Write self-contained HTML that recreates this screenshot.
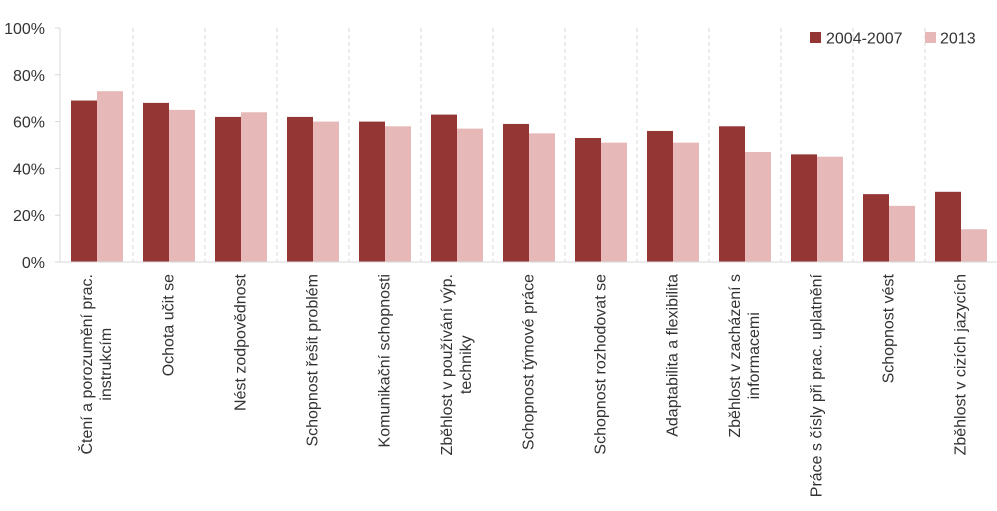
<!DOCTYPE html>
<html><head><meta charset="utf-8"><style>
body{margin:0;background:#fff;}
svg{display:block;font-family:"Liberation Sans",sans-serif;}
</style></head><body>
<svg id="chart" width="997" height="511" viewBox="0 0 997 511">
<g id="grid"></g>
<g id="bars"></g>
<g id="axes"></g>
<g id="labels"></g>
<g>
<rect x="810" y="32" width="11" height="11" fill="#943634"/>
<text x="826" y="43.5" font-size="16" fill="#333">2004-2007</text>
<rect x="925" y="32" width="11" height="11" fill="#E6B9B8"/>
<text x="940" y="43.5" font-size="16" fill="#333">2013</text>
</g>
</svg>
<script>
const categories=[["Čtení a porozumění prac.","instrukcím"],["Ochota učit se"],["Nést zodpovědnost"],["Schopnost řešit problém"],["Komunikační schopnosti"],["Zběhlost v používání výp.","techniky"],["Schopnost týmové práce"],["Schopnost rozhodovat se"],["Adaptabilita a flexibilita"],["Zběhlost v zacházení s","informacemi"],["Práce s čísly při prac. uplatnění"],["Schopnost vést"],["Zběhlost v cizích jazycích"]];
const series2004=[69,68,62,62,60,63,59,53,56,58,46,29,30];
const series2013=[73,65,64,60,58,57,55,51,51,47,45,24,14];
const yTicks=[0,20,40,60,80,100];
const NS="http://www.w3.org/2000/svg";
const x0=61,cw=72,yBase=262,yTop=28;
const y=v=>yBase-(v/100)*(yBase-yTop);
const xc=i=>x0+i*cw;
function mk(tag,attrs,parent){const e=document.createElementNS(NS,tag);for(const k in attrs)e.setAttribute(k,attrs[k]);parent.appendChild(e);return e;}
const grid=document.getElementById('grid'),bars=document.getElementById('bars'),axes=document.getElementById('axes'),labels=document.getElementById('labels');
for(let i=1;i<categories.length;i++){
  const l=mk('line',{x1:xc(i),x2:xc(i),y1:yTop,y2:yBase,stroke:'#d9d9d9','stroke-dasharray':'4,3'},grid);
  
  
}
categories.forEach((c,i)=>{
  const b1=mk('rect',{x:xc(i)+10,y:y(series2004[i]),width:26,height:yBase-y(series2004[i]),fill:'#943634'},bars);
  
  
  const b2=mk('rect',{x:xc(i)+36,y:y(series2013[i]),width:26,height:yBase-y(series2013[i]),fill:'#E6B9B8'},bars);
  
  
  const cx=xc(i)+cw/2;
  const texts=[];
  c.forEach((line,j)=>{
    const lx=cx+(c.length===1?0:(j===0?-9.5:9.5));
    const t=mk('text',{'text-anchor':'middle','dominant-baseline':'central','font-size':'16',fill:'#333'},labels);
    t.textContent=line;
    
    
    texts.push([t,lx]);
  });
  let maxLen=0;
  texts.forEach(([t])=>{maxLen=Math.max(maxLen,t.getComputedTextLength());});
  const cy=274+maxLen/2;
  texts.forEach(([t,lx])=>{t.setAttribute('transform',`translate(${lx},${cy}) rotate(-90)`);});
});
const ax=mk('line',{x1:60,x2:60,y1:yTop,y2:yBase,stroke:'#d9d9d9'},axes);


const bx=mk('line',{x1:60,x2:997,y1:yBase,y2:yBase,stroke:'#d9d9d9'},axes);


yTicks.forEach(v=>{
  const tk=mk('line',{x1:55,x2:60,y1:y(v),y2:y(v),stroke:'#d9d9d9'},axes);
  
  
  const t=mk('text',{x:45,y:y(v)+6,'text-anchor':'end','font-size':'16',fill:'#333'},axes);
  t.textContent=v+'%';
  
  
});
</script>
</body></html>
